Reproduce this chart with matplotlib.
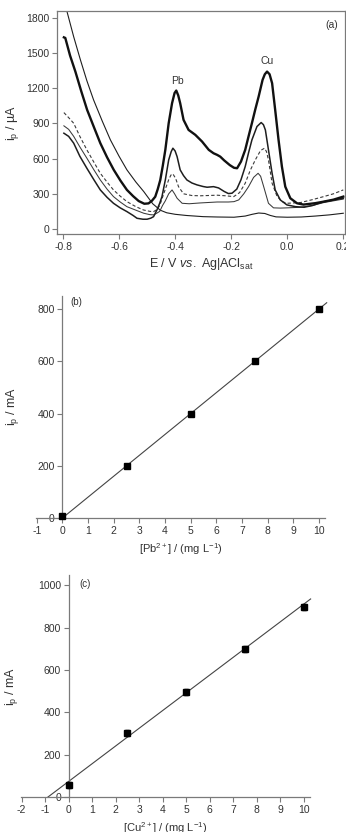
import numpy as np
import matplotlib
matplotlib.use("Agg")
import matplotlib.pyplot as plt

plt.rcParams['font.family'] = ['Liberation Sans', 'DejaVu Sans']
plt.rcParams['mathtext.fontset'] = 'custom'
plt.rcParams['mathtext.rm'] = 'Liberation Sans'
plt.rcParams['mathtext.it'] = 'Liberation Sans:italic'
plt.rcParams['mathtext.default'] = 'regular'
plt.rcParams['axes.unicode_minus'] = False

# ---- panel (a): stripping voltammograms ----
E_blank = [-0.786, -0.762, -0.738, -0.715, -0.691, -0.66, -0.631, -0.60, -0.572, -0.54, -0.512, -0.48,
           -0.453, -0.43, -0.40, -0.36, -0.30, -0.25, -0.19, -0.15, -0.125, -0.102, -0.08, -0.06,
           -0.04, 0.0, 0.05, 0.10, 0.15, 0.20]
I_blank = [1856, 1640, 1443, 1265, 1101, 920, 760, 620, 504, 400, 319, 215,
           160, 138, 125, 115, 105, 102, 100, 110, 125, 136, 132, 115,
           103, 100, 102, 110, 120, 134]

E_thick = [-0.797, -0.792, -0.775, -0.756, -0.735, -0.714, -0.69, -0.667, -0.643, -0.619, -0.595, -0.572,
           -0.55, -0.53, -0.51, -0.495, -0.483, -0.471, -0.462, -0.453, -0.444, -0.435, -0.423, -0.411,
           -0.402, -0.396, -0.389, -0.382, -0.37, -0.352, -0.328, -0.304, -0.28, -0.263, -0.25, -0.239,
           -0.225, -0.205, -0.19, -0.179, -0.165, -0.15, -0.138, -0.126, -0.114, -0.102, -0.088, -0.08,
           -0.072, -0.063, -0.054, -0.043, -0.031, -0.019, -0.007, 0.011, 0.035, 0.058, 0.076, 0.10,
           0.13, 0.165, 0.20]
I_thick = [1635, 1630, 1480, 1343, 1175, 1016, 870, 732, 612, 504, 412, 333,
           280, 238, 215, 218, 240, 275, 340, 418, 540, 675, 903, 1073,
           1160, 1181, 1140, 1073, 931, 845, 803, 746, 675, 646, 632, 617,
           585, 545, 522, 518, 575, 675, 790, 903, 1020, 1130, 1272, 1320,
           1343, 1320, 1244, 1016, 760, 532, 361, 262, 219, 208, 213, 220,
           233, 250, 276]

E_med = [-0.797, -0.78, -0.762, -0.74, -0.715, -0.69, -0.667, -0.643, -0.62, -0.596, -0.572, -0.55,
         -0.536, -0.515, -0.50, -0.487, -0.477, -0.465, -0.455, -0.447, -0.435, -0.423, -0.414, -0.408,
         -0.40, -0.393, -0.382, -0.37, -0.358, -0.34, -0.322, -0.30, -0.286, -0.263, -0.245, -0.225,
         -0.21, -0.197, -0.18, -0.165, -0.15, -0.138, -0.126, -0.108, -0.093, -0.085, -0.078, -0.067,
         -0.054, -0.043, -0.025, -0.001, 0.03, 0.06, 0.09, 0.13, 0.165, 0.20]
I_med = [817, 790, 732, 620, 518, 420, 333, 270, 219, 180, 148, 115,
         91, 83, 83, 92, 105, 162, 220, 276, 418, 589, 660, 689,
         665, 617, 504, 455, 418, 392, 376, 362, 356, 361, 350, 320,
         302, 305, 340, 420, 532, 650, 760, 874, 908, 890, 845, 675,
         475, 333, 248, 205, 190, 185, 200, 233, 248, 262]

E_dash = [-0.797, -0.78, -0.762, -0.74, -0.715, -0.69, -0.667, -0.643, -0.62, -0.596, -0.572, -0.54,
          -0.513, -0.49, -0.477, -0.465, -0.455, -0.445, -0.435, -0.423, -0.415, -0.408, -0.398, -0.388,
          -0.37, -0.34, -0.31, -0.25, -0.22, -0.191, -0.17, -0.15, -0.132, -0.114, -0.095, -0.081,
          -0.074, -0.067, -0.054, -0.036, -0.015, 0.0, 0.047, 0.09, 0.13, 0.165, 0.20]
I_dash = [993, 950, 902, 790, 675, 570, 475, 400, 333, 280, 233, 190,
          162, 150, 148, 165, 200, 270, 340, 420, 460, 470, 430, 361,
          300, 285, 283, 288, 283, 276, 310, 390, 500, 589, 670, 689,
          660, 589, 390, 276, 230, 219, 225, 250, 276, 300, 333]

E_thin = [-0.797, -0.78, -0.762, -0.74, -0.715, -0.69, -0.667, -0.643, -0.62, -0.596, -0.572, -0.54,
          -0.512, -0.49, -0.477, -0.465, -0.455, -0.445, -0.435, -0.423, -0.411, -0.402, -0.393, -0.375,
          -0.35, -0.31, -0.25, -0.21, -0.19, -0.173, -0.155, -0.138, -0.12, -0.104, -0.095, -0.084,
          -0.067, -0.049, -0.025, 0.0, 0.047, 0.09, 0.13, 0.165, 0.20]
I_thin = [880, 850, 790, 700, 604, 505, 418, 340, 276, 230, 190, 160,
          134, 122, 120, 135, 150, 200, 240, 300, 333, 300, 262, 219,
          215, 222, 230, 230, 233, 248, 300, 361, 440, 475, 450, 361,
          219, 180, 178, 180, 185, 200, 225, 240, 255]

# ---- panel (b): Pb calibration ----
c_pb = [0, 2.5, 5, 7.5, 10]
i_pb = [9, 200, 400, 600, 800]
fit_pb = (80.0, 0.0)        # slope, intercept
fit_pb_x = (0.0, 10.3)

# ---- panel (c): Cu calibration ----
c_cu = [0, 2.5, 5, 7.5, 10]
i_cu = [58, 302, 498, 698, 899]
err_cu = [14, 14, 14, 14, 14]
fit_cu = (83.5, 75.0)
fit_cu_x = (-0.9, 10.3)

spine_col = '#7a7a7a'
txt_col = '#333333'
line_col = '#1e1e1e'

fig = plt.figure(figsize=(3.46, 8.32), dpi=100)


def style(ax):
    for s in ax.spines.values():
        s.set_color(spine_col)
        s.set_linewidth(0.9)
    ax.tick_params(direction='out', length=3.5, width=0.8, color=spine_col,
                   labelsize=7.5, labelcolor=txt_col, pad=2)


# (a)
ax = fig.add_axes([0.166, 0.7182, 0.831, 0.2686])
ax.plot(E_blank, I_blank, color=line_col, lw=0.8)
ax.plot(E_thin, I_thin, color='#3a3a3a', lw=0.75)
ax.plot(E_dash, I_dash, color='#3a3a3a', lw=0.8, ls=(0, (3, 2)))
ax.plot(E_med, I_med, color=line_col, lw=1.1)
ax.plot(E_thick, I_thick, color='#111111', lw=1.7)
ax.set_xlim(-0.82, 0.206)
ax.set_ylim(-47, 1860)
ax.set_xticks([-0.8, -0.6, -0.4, -0.2, 0.0, 0.2])
ax.set_xticklabels(['-0.8', '-0.6', '-0.4', '-0.2', '0.0', '0.2'])
ax.set_yticks(np.arange(0, 1801, 300))
style(ax)
ax.text(-0.393, 1264, 'Pb', fontsize=7.5, color=txt_col, ha='center', va='center')
ax.text(-0.072, 1435, 'Cu', fontsize=7.5, color=txt_col, ha='center', va='center')
ax.text(0.16, 1742, '(a)', fontsize=7.5, color=txt_col, ha='center', va='center')
ax.set_xlabel('E / V $\\it{vs.}$ Ag|ACl$_{sat}$', fontsize=9, color=txt_col, labelpad=3)
ax.set_ylabel('i$_p$ / µA', fontsize=9, color=txt_col, labelpad=4)

# (b)
ax = fig.add_axes([0.104, 0.3774, 0.835, 0.2672])
xs = np.array(fit_pb_x)
ax.plot(xs, fit_pb[0] * xs + fit_pb[1], color='#444444', lw=0.8, clip_on=False)
ax.plot(c_pb, i_pb, 's', color='black', ms=3.8, clip_on=False, zorder=3)
ax.set_xlim(-1.03, 10.23)
ax.set_ylim(0, 851)
ax.spines['left'].set_position(('data', 0))
ax.spines['top'].set_visible(False)
ax.spines['right'].set_visible(False)
ax.set_xticks(np.arange(-1, 11, 1))
ax.set_yticks([0, 200, 400, 600, 800])
style(ax)
ax.text(0.55, 825, '(b)', fontsize=7, color=txt_col, ha='center', va='center')
ax.set_xlabel('[Pb$^{2+}$] / (mg L$^{-1}$)', fontsize=8, color=txt_col, labelpad=4)
ax.set_ylabel('i$_p$ / mA', fontsize=9, color=txt_col)
ax.yaxis.set_label_coords(-0.052, 0.5)

# (c)
ax = fig.add_axes([0.0607, 0.0417, 0.835, 0.2672])
xs = np.array(fit_cu_x)
ax.plot(xs, fit_cu[0] * xs + fit_cu[1], color='#444444', lw=0.8, clip_on=False)
ax.errorbar(c_cu, i_cu, yerr=err_cu, fmt='s', color='black', ms=3.8, capsize=1.5,
            elinewidth=0.8, clip_on=False, zorder=3)
ax.set_xlim(-2.03, 10.27)
ax.set_ylim(0, 1048)
ax.spines['left'].set_position(('data', 0))
ax.spines['top'].set_visible(False)
ax.spines['right'].set_visible(False)
ax.set_xticks(np.arange(-2, 11, 1))
ax.set_yticks([0, 200, 400, 600, 800, 1000])
style(ax)
ax.text(0.7, 1005, '(c)', fontsize=7, color=txt_col, ha='center', va='center')
ax.set_xlabel('[Cu$^{2+}$] / (mg L$^{-1}$)', fontsize=8, color=txt_col, labelpad=4)
ax.set_ylabel('i$_p$ / mA', fontsize=9, color=txt_col)
ax.yaxis.set_label_coords(-0.003, 0.5)

fig.savefig('out.png', dpi=100)
